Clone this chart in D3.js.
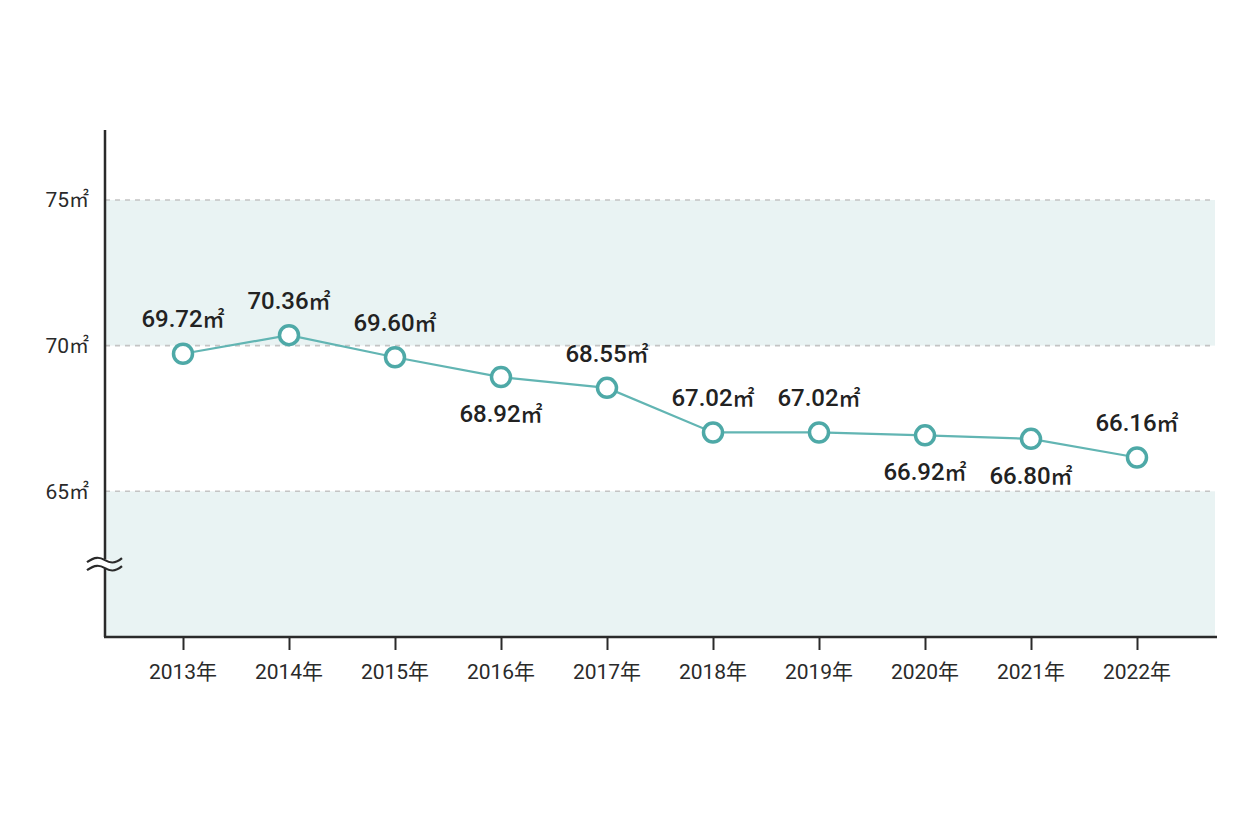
<!DOCTYPE html>
<html><head><meta charset="utf-8">
<script src="https://cdn.jsdelivr.net/npm/d3@7"></script>
<style>
body{margin:0;background:#fff;}
svg{display:block;}
</style></head>
<body>
<svg id="chart" width="1260" height="840"></svg>
<script>
const years = ["2013年","2014年","2015年","2016年","2017年","2018年","2019年","2020年","2021年","2022年"];
const values = [69.72, 70.36, 69.60, 68.92, 68.55, 67.02, 67.02, 66.92, 66.80, 66.16];
const valueLabels = ["69.72","70.36","69.60","68.92","68.55","67.02","67.02","66.92","66.80","66.16"];
const labelSide = ["above","above","above","below","above","above","above","below","below","above"];
const yTicks = [65, 70, 75];
const yTickLabels = ["65","70","75"];
const unit = "㎡";
const bands = [[60,65],[70,75]];

(function(){
const svg = d3.select("#chart");
const pLeft = 105, pRight = 1217, pBottom = 637, pTop = 130;
const x = d3.scalePoint().domain(years).range([183, 1137]);
const y = d3.scaleLinear().domain([60, 77.4]).range([pBottom, pTop]);

const font = "Roboto,'Noto Sans CJK JP',sans-serif";
const cjk = "'Noto Sans CJK JP',sans-serif";

// bands
svg.selectAll("rect.band").data(bands).enter().append("rect")
  .attr("x", pLeft).attr("width", pRight - 2 - pLeft)
  .attr("y", d => y(d[1])).attr("height", d => y(d[0]) - y(d[1]))
  .attr("fill", "#e9f3f3");

// grid lines
svg.selectAll("line.grid").data(yTicks).enter().append("line")
  .attr("x1", pLeft).attr("x2", pRight - 2)
  .attr("y1", d => y(d)).attr("y2", d => y(d))
  .attr("stroke", "#c4c4c4").attr("stroke-width", 1.6).attr("stroke-dasharray", "5,5");

// y labels
const yl = svg.selectAll("text.ylab").data(yTicks).enter().append("text")
  .attr("x", 89).attr("y", d => y(d)).attr("dy", "0.36em")
  .attr("text-anchor", "end").attr("font-family", font).attr("font-size", 21)
  .attr("fill", "#2a2a2a");
yl.append("tspan").text((d,i) => yTickLabels[i]);
yl.append("tspan").attr("font-family", cjk).attr("font-size", 20).text(unit);

// axes
const xAxis = d3.axisBottom(x).tickSize(13).tickFormat("");
const gx = svg.append("g").attr("transform", `translate(0,${pBottom})`).call(xAxis);
gx.select(".domain").remove();
gx.selectAll(".tick line").attr("stroke", "#2a2a2a").attr("stroke-width", 2);
svg.append("line").attr("x1", pLeft - 1).attr("x2", pRight).attr("y1", pBottom).attr("y2", pBottom)
  .attr("stroke", "#2a2a2a").attr("stroke-width", 2.5);
svg.append("line").attr("x1", pLeft).attr("x2", pLeft).attr("y1", pTop).attr("y2", pBottom)
  .attr("stroke", "#2a2a2a").attr("stroke-width", 2.5);

// x labels
svg.selectAll("text.xlab").data(years).enter().append("text")
  .attr("x", d => x(d)).attr("y", 671).attr("dy", "0.36em")
  .attr("text-anchor", "middle").attr("font-family", font).attr("font-size", 21)
  .attr("fill", "#2a2a2a").text(d => d);

// break mark
const by = y(62.5);
const wave = (yy) => `M87,${yy+2} C95,${yy-4} 100,${yy-3} 105,${yy} S115,${yy+4} 122,${yy-2}`;
svg.append("rect").attr("x", 100).attr("y", by - 5).attr("width", 10).attr("height", 9).attr("fill", "#fff");
[by - 4, by + 4].forEach(yy => svg.append("path").attr("d", wave(yy))
  .attr("fill", "none").attr("stroke", "#2a2a2a").attr("stroke-width", 2.2));

// line
const data = years.map((d,i) => ({year:d, v:values[i], lab:valueLabels[i], side:labelSide[i]}));
svg.append("path").datum(data)
  .attr("d", d3.line().x(d => x(d.year)).y(d => y(d.v)))
  .attr("fill", "none").attr("stroke", "#62b5b3").attr("stroke-width", 2.2);

svg.selectAll("circle.pt").data(data).enter().append("circle")
  .attr("cx", d => x(d.year)).attr("cy", d => y(d.v)).attr("r", 9.5)
  .attr("fill", "#fff").attr("stroke", "#4ea9a7").attr("stroke-width", 3.5);

const lt = svg.selectAll("text.val").data(data).enter().append("text")
  .attr("x", d => x(d.year)).attr("y", d => y(d.v) + (d.side === "above" ? -35 : 36)).attr("dy", "0.36em")
  .attr("text-anchor", "middle").attr("font-family", font).attr("font-size", 24)
  .attr("font-weight", 500).attr("fill", "#222");
lt.append("tspan").text(d => d.lab);
lt.append("tspan").attr("font-family", cjk).attr("font-size", 22).attr("font-weight", 500).text(unit);
})();
</script>
</body></html>
